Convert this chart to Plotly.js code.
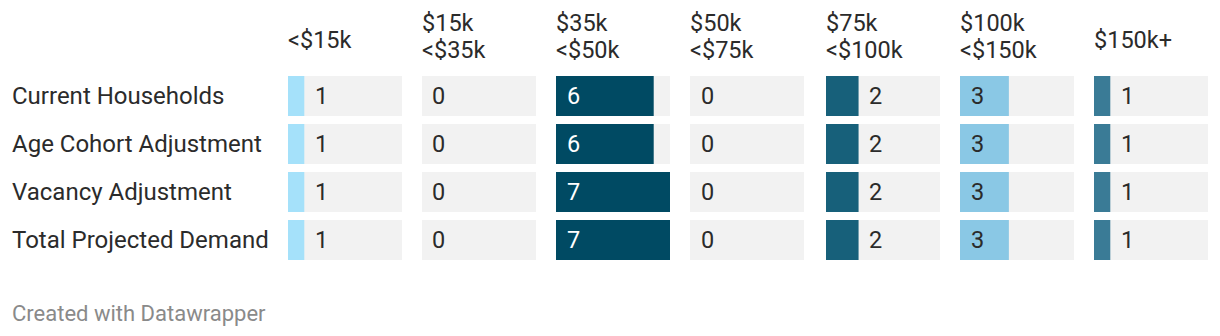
<!DOCTYPE html>
<html>
<head>
<meta charset="utf-8">
<script src="https://cdn.plot.ly/plotly-3.0.1.min.js"></script>
<style>
  html, body { margin: 0; padding: 0; background: #ffffff; }
  #chart { width: 1220px; height: 336px; }
</style>
</head>
<body>
<div id="chart"></div>
<script>
// ---- Data ----
const rowLabels = ['Current Households', 'Age Cohort Adjustment', 'Vacancy Adjustment', 'Total Projected Demand'];
const columnHeaders = [['<$15k'], ['$15k', '<$35k'], ['$35k', '<$50k'], ['$50k', '<$75k'], ['$75k', '<$100k'], ['$100k', '<$150k'], ['$150k+']];
const under15k = [1, 1, 1, 1];
const from15to35k = [0, 0, 0, 0];
const from35to50k = [6, 6, 7, 7];
const from50to75k = [0, 0, 0, 0];
const from75to100k = [2, 2, 2, 2];
const from100to150k = [3, 3, 3, 3];
const over150k = [1, 1, 1, 1];
const columnValues = [under15k, from15to35k, from35to50k, from50to75k, from75to100k, from100to150k, over150k];

// ---- Style ----
const barColors = ['#a5e1fa', '#a5e1fa', '#004a63', '#a5e1fa', '#17607a', '#8ac8e5', '#3a7b96'];
const bgColor = '#f2f2f2';
const W = 1220, H = 336;
const colLeft = [288, 422, 556, 690, 826, 960, 1094];
const colWidth = 114;
const bandTop = 72, bandBottom = 264;
const FONT = 'Roboto, sans-serif';
const TEXT = '#2b2b2b';
const FS = 23.5;

const maxVal = Math.max(...columnValues.flat());

function isDark(hex) {
  const r = parseInt(hex.slice(1, 3), 16), g = parseInt(hex.slice(3, 5), 16), b = parseInt(hex.slice(5, 7), 16);
  return (0.299 * r + 0.587 * g + 0.114 * b) < 140;
}
function esc(s) { return s.replace(/&/g, '&amp;').replace(/</g, '&lt;').replace(/>/g, '&gt;'); }

const traces = [];
const annotations = [];
const layout = {
  width: W, height: H,
  margin: {l: 0, r: 0, t: 0, b: 0},
  paper_bgcolor: '#ffffff', plot_bgcolor: '#ffffff',
  showlegend: false,
  barmode: 'overlay',
  bargap: 8 / 48,
  font: {family: FONT, size: FS, color: TEXT},
  yaxis: {
    type: 'category', visible: false, autorange: 'reversed', fixedrange: true,
    domain: [1 - bandBottom / H, 1 - bandTop / H]
  },
  annotations: annotations
};

columnValues.forEach((vals, c) => {
  const axName = c === 0 ? 'x' : 'x' + (c + 1);
  const layoutKey = c === 0 ? 'xaxis' : 'xaxis' + (c + 1);
  layout[layoutKey] = {
    visible: false, range: [0, maxVal], fixedrange: true,
    domain: [colLeft[c] / W, (colLeft[c] + colWidth) / W],
    anchor: 'y'
  };
  traces.push({
    type: 'bar', orientation: 'h', x: rowLabels.map(() => maxVal), y: rowLabels,
    xaxis: axName, yaxis: 'y', marker: {color: bgColor, line: {width: 0}}, hoverinfo: 'skip'
  });
  traces.push({
    type: 'bar', orientation: 'h', x: vals, y: rowLabels,
    xaxis: axName, yaxis: 'y', marker: {color: barColors[c], line: {width: 0}}, hoverinfo: 'x+y'
  });
  vals.forEach((v, r) => {
    const barPx = v / maxVal * colWidth;
    const inside = barPx >= 40;
    annotations.push({
      xref: axName, yref: 'y', x: inside ? 0 : v, y: rowLabels[r],
      text: String(v), showarrow: false, xanchor: 'left', yanchor: 'middle', xshift: 8.5,
      font: {family: FONT, size: FS, color: inside && isDark(barColors[c]) ? '#ffffff' : TEXT}
    });
  });
  const lines = columnHeaders[c];
  const centers = lines.length === 2 ? [23, 50] : [39.5];
  lines.forEach((ln, i) => {
    annotations.push({
      xref: 'paper', yref: 'paper', x: (colLeft[c] - 2) / W, y: 1 - centers[i] / H,
      text: esc(ln), showarrow: false, xanchor: 'left', yanchor: 'middle', align: 'left',
      font: {family: FONT, size: FS, color: TEXT}
    });
  });
});

rowLabels.forEach((lab) => {
  annotations.push({
    xref: 'paper', yref: 'y', x: 10 / W, y: lab, text: lab,
    showarrow: false, xanchor: 'left', yanchor: 'middle',
    font: {family: FONT, size: 24, color: TEXT}
  });
});

annotations.push({
  xref: 'paper', yref: 'paper', x: 10 / W, y: 1 - 313 / H,
  text: 'Created with Datawrapper', showarrow: false, xanchor: 'left', yanchor: 'middle',
  font: {family: FONT, size: 22, color: '#8a8a8a'}
});

Plotly.newPlot('chart', traces, layout, {displayModeBar: false, staticPlot: true});
</script>
</body>
</html>
